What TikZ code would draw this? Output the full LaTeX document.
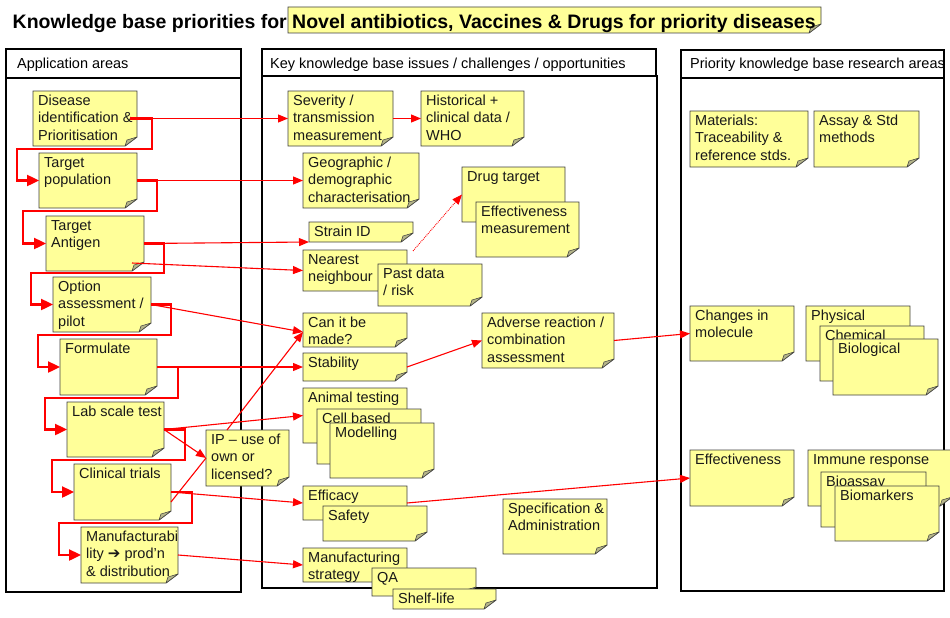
\documentclass[tikz,border=0pt]{standalone}
\usepackage{fontspec}
\setmainfont{Liberation Sans}
\newfontfamily\symfont{DejaVu Sans}
\usetikzlibrary{arrows.meta}
\definecolor{notey}{HTML}{FFFF99}
\definecolor{noteline}{HTML}{404040}
\definecolor{foldc}{HTML}{B5B58A}
\definecolor{linkred}{HTML}{FF0000}
\tikzset{
  noteshape/.style={fill=notey, draw=noteline, line width=0.8pt},
  foldshape/.style={fill=foldc, draw=noteline, line width=0.5pt, line join=round},
  notearea/.style={anchor=north west, inner sep=0pt, outer sep=0pt},
  notetext/.style={anchor=north west, inner sep=0pt, align=left, font=\fontsize{14.5}{17.5}\selectfont, text=black!90},
  colbox/.style={draw=black, line width=2.5pt},
  hdr/.style={anchor=base west, inner sep=0pt, font=\fontsize{14.5}{17.5}\selectfont},
  titletext/.style={anchor=base west, inner sep=0pt, font=\fontsize{19.5}{22}\selectfont\bfseries},
  link/.style={draw=linkred, line width=1.1pt, -{Triangle[length=10pt,width=8pt]}},
  linkplain/.style={draw=linkred, line width=1.1pt},
  linkdot/.style={draw=linkred, line width=0.9pt, densely dotted, -{Triangle[length=10pt,width=8pt]}},
  stair/.style={draw=linkred, line width=2.4pt, -{Triangle[length=12pt,width=11pt]}},
}
\newcommand{\stickynote}[6]{%
  \filldraw[noteshape] (#2,#3) -- (#4,#3) -- (#4,#5-9) -- (#4-12,#5) -- (#2,#5) -- cycle;
  \filldraw[foldshape] (#4,#5-9) -- (#4-12,#5) -- (#4-10,#5-6) -- cycle;
  \node[notearea, minimum width={(#4-#2)*1pt}, minimum height={(#5-#3)*1pt}] (#1) at (#2,#3) {};
  \node[notetext] (#1-t) at (#2+5,#3+3) {\rule{0pt}{11pt}#6};
}
\begin{document}
\begin{tikzpicture}[x=1pt,y=-1pt]
\useasboundingbox[fill=white] (0,0) rectangle (950,618);

% title
\node[titletext] (title) at (12.5,29) {Knowledge base priorities for};
\stickynote{tbox}{288}{7}{821}{33}{}
\node[titletext] (ttext) at (292,29) {Novel antibiotics, Vaccines \& Drugs for priority diseases};

% column boxes
\draw[colbox] (6,49) rectangle (241,78);
\draw[colbox] (6,78) rectangle (241,592);
\node[hdr] (h1) at (17,68) {Application areas};
\draw[colbox] (262,49) rectangle (656,76);
\draw[colbox] (262,76) rectangle (657,588);
\node[hdr] (h2) at (270,68) {Key knowledge base issues / challenges / opportunities};
\draw[colbox] (681,50) rectangle (944,78);
\draw[colbox] (681,78) rectangle (944,591);
\node[hdr] (h3) at (690,68) {Priority knowledge base research areas};

% left column
\stickynote{dis}{33}{91}{137}{146}{Disease\\identification \&\\Prioritisation}
\stickynote{tp}{39}{153}{137}{208}{Target\\population}
\stickynote{ta}{46}{216}{144}{271}{Target\\Antigen}
\stickynote{opt}{53}{277}{151}{332}{Option\\assessment /\\pilot}
\stickynote{form}{60}{339}{157}{395}{Formulate}
\stickynote{lab}{67}{402}{164}{457}{Lab scale test}
\stickynote{clin}{74}{464}{171}{520}{Clinical trials}
\stickynote{man}{81}{527}{178}{583}{Manufacturabi\\lity {\symfont\fontsize{15}{17.5}\selectfont\bfseries ➔} prod’n\\\& distribution}

% middle column
\stickynote{sev}{288}{91}{393}{146}{Severity /\\transmission\\measurement}
\stickynote{his}{421}{91}{524}{146}{Historical +\\clinical data /\\WHO}
\stickynote{geo}{303}{153}{419}{208}{Geographic /\\demographic\\characterisation}
\stickynote{drug}{462}{167}{565}{222}{Drug target}
\stickynote{effm}{476}{202}{579}{257}{Effectiveness\\measurement}
\stickynote{strain}{309}{222}{413}{242}{Strain ID}
\stickynote{nn}{303}{250}{407}{291}{Nearest\\neighbour}
\stickynote{past}{378}{264}{482}{306}{Past data\\/ risk}
\stickynote{can}{303}{313}{407}{347}{Can it be\\made?}
\stickynote{stab}{303}{353}{407}{381}{Stability}
\stickynote{adv}{482}{313}{614}{368}{Adverse reaction /\\combination\\assessment}
\stickynote{anim}{303}{388}{407}{443}{Animal testing}
\stickynote{cell}{317}{409}{421}{464}{Cell based}
\stickynote{model}{330}{423}{434}{478}{Modelling}
\stickynote{ip}{206}{430}{289}{486}{IP – use of\\own or\\licensed?}
\stickynote{eff}{303}{486}{407}{520}{Efficacy}
\stickynote{safe}{323}{506}{427}{541}{Safety}
\stickynote{spec}{503}{499}{607}{554}{Specification \&\\Administration}
\stickynote{mfg}{303}{548}{407}{582}{Manufacturing\\strategy}
\stickynote{qa}{372}{568}{476}{596}{QA}
\stickynote{shelf}{393}{589}{496}{609}{Shelf-life}

% right column
\stickynote{mat}{690}{111}{808}{167}{Materials:\\Traceability \&\\reference stds.}
\stickynote{assay}{814}{111}{919}{167}{Assay \& Std\\methods}
\stickynote{chg}{690}{306}{794}{361}{Changes in\\molecule}
\stickynote{phys}{806}{306}{910}{361}{Physical}
\stickynote{chem}{820}{326}{924}{381}{Chemical}
\stickynote{bio}{833}{339}{938}{395}{Biological}
\stickynote{effv}{690}{450}{794}{506}{Effectiveness}
\stickynote{imm}{808}{450}{952}{506}{Immune response}
\stickynote{bioa}{821}{472}{926}{527}{Bioassay}
\stickynote{biom}{835}{486}{939}{541}{Biomarkers}

% staircase
\draw[stair] ([xshift=-7]dis.east) -- ++(22,0) -- ++(0,30.5) -| ([xshift=-22]tp.west) -- (tp.west);
\draw[stair] (tp.east) -- ++(20,0) -- ++(0,30.5) -| ([xshift=-23]ta.west) -- (ta.west);
\draw[stair] (ta.east) -- ++(20,0) -- ++(0,29.5) -| ([xshift=-22]opt.west) -- (opt.west);
\draw[stair] (opt.east) -- ++(20,0) -- ++(0,30.5) -| ([xshift=-22]form.west) -- (form.west);
\draw[stair] (form.east) -- ++(21,0) -- ++(0,31) -| ([xshift=-22]lab.west) -- (lab.west);
\draw[stair] (lab.east) -- ++(21,0) -- ++(0,30.5) -| ([xshift=-22]clin.west) -- (clin.west);
\draw[stair] (clin.east) -- ++(21,0) -- ++(0,31) -| ([xshift=-22]man.west) -- (man.west);

% links
\draw[link] ([xshift=-7]dis.east) -- (sev.west);
\draw[link] (sev.east) -- (his.west);
\draw[link] (tp.east) -- (geo.west);
\draw[link] (ta.east) -- (strain.south west);
\draw[link] ([xshift=-12,yshift=8]ta.south east) -- (nn.west);
\draw[link] (opt.east) -- ([yshift=-2]can.west);
\draw[link] ([xshift=21]ip.north west) -- ([yshift=-2]can.west);
\draw[link] (form.east) -- (stab.west);
\draw[link] (stab.east) -- (adv.west);
\draw[link] (adv.east) -- (chg.west);
\draw[link] (lab.east) -- (anim.west);
\draw[link] (lab.east) -- (ip.west);
\draw[linkplain] ([yshift=-10]clin.east) -- (ip.west);
\draw[link] (clin.east) -- (eff.west);
\draw[link] (eff.east) -- (effv.west);
\draw[link] (man.east) -- (mfg.west);
\draw[linkdot] ([xshift=6,yshift=-1]nn.north east) -- (drug.west);
\end{tikzpicture}
\end{document}
